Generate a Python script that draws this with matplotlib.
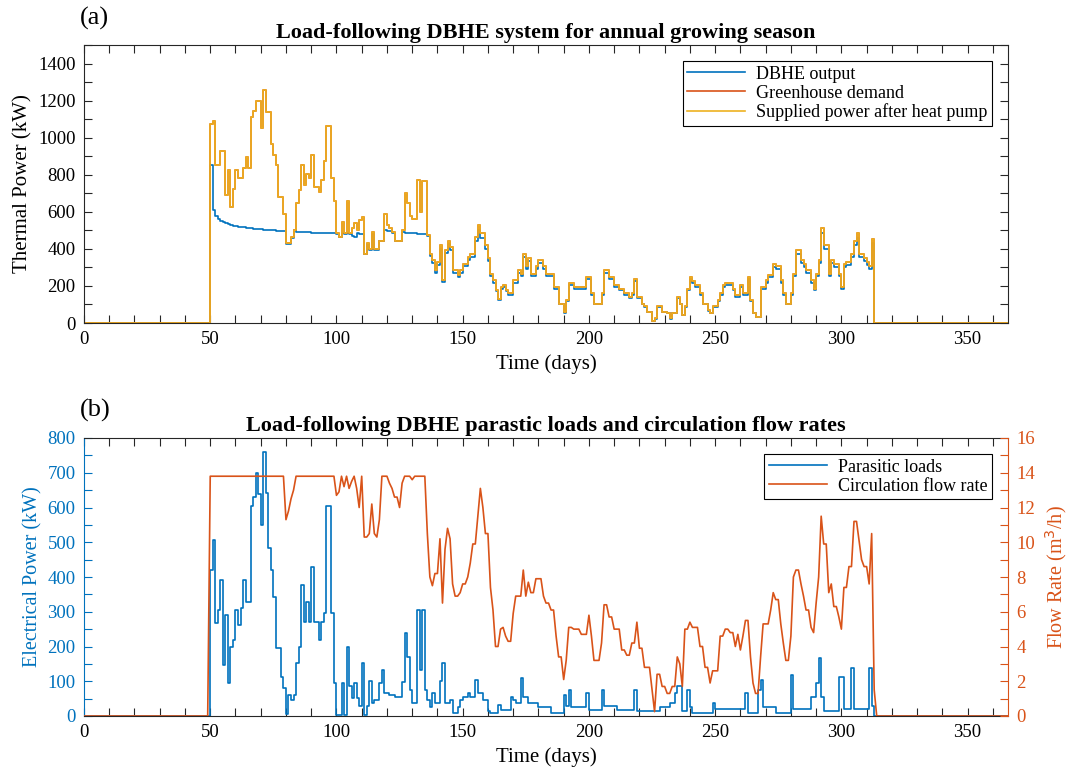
import numpy as np
import matplotlib
matplotlib.use("Agg")
import matplotlib.pyplot as plt

plt.rcParams['font.family'] = ['Liberation Serif', 'DejaVu Serif']

# daily values, growing season starts on day 50
start_day = 50

# supplied power after heat pump (= greenhouse demand), kW
supplied_kw = [
    1075, 1090, 850, 850, 930, 930, 690, 825, 625, 725,      # 50
    825, 785, 785, 835, 895, 835, 1110, 1145, 1200, 1200,    # 60
    1050, 1255, 1140, 1140, 965, 905, 850, 680, 680, 590,    # 70
    430, 430, 465, 500, 645, 715, 850, 745, 805, 785,        # 80
    905, 735, 735, 705, 770, 875, 1065, 1065, 785, 660,      # 90
    485, 465, 545, 485, 660, 485, 515, 540, 500, 555,        # 100
    570, 375, 430, 400, 490, 400, 400, 445, 445, 590,        # 110
    530, 515, 490, 445, 445, 445, 500, 700, 645, 580,        # 120
    560, 560, 770, 600, 765, 765, 475, 375, 340, 285,        # 130
    330, 420, 230, 395, 445, 410, 285, 285, 260, 285,        # 140
    320, 320, 355, 375, 375, 465, 530, 485, 485, 420,        # 150
    350, 265, 230, 180, 130, 195, 205, 180, 160, 160,        # 160
    230, 230, 285, 265, 375, 305, 350, 265, 265, 305,        # 170
    340, 340, 305, 265, 265, 265, 195, 195, 105, 105,        # 180
    60, 125, 215, 215, 195, 195, 195, 195, 195, 250,         # 190
    250, 160, 105, 105, 105, 160, 285, 285, 250, 250,        # 200
    205, 205, 185, 185, 160, 160, 140, 160, 240, 140,        # 210
    140, 105, 90, 60, 60, 10, 25, 90, 90, 60,                # 220
    60, 55, 25, 55, 55, 140, 105, 45, 90, 185,               # 230
    250, 225, 205, 205, 160, 105, 105, 70, 55, 90,           # 240
    90, 125, 160, 205, 215, 215, 215, 185, 150, 150,         # 250
    205, 160, 160, 250, 125, 55, 35, 35, 195, 195,           # 260
    230, 260, 260, 320, 305, 305, 230, 160, 105, 105,        # 270
    160, 265, 395, 395, 340, 320, 285, 285, 230, 185,        # 280
    265, 340, 510, 420, 420, 265, 340, 320, 320, 265,        # 290
    195, 320, 330, 330, 375, 445, 485, 375, 375, 350,        # 300
    330, 305, 455,                                           # 310
]
demand_kw = supplied_kw

# DBHE output, kW
dbhe_kw = [
    850, 610, 575, 560, 550, 543, 538, 533, 529, 526,
    523, 520, 518, 516, 514, 512, 510, 509, 507, 506,
    505, 504, 503, 502, 501, 500, 499, 498, 497, 496,
    425, 425, 460, 500, 492, 491, 490, 490, 489, 489,
    488, 488, 487, 487, 486, 486, 485, 485, 485, 484,
    480, 462, 484, 480, 483, 480, 470, 465, 483, 482,
    482, 372, 425, 395, 482, 395, 395, 440, 440, 500,
    499, 498, 485, 440, 440, 440, 490, 485, 485, 484,
    484, 483, 482, 482, 481, 480, 470, 360, 325, 272,
    315, 400, 220, 378, 425, 392, 272, 272, 248, 272,
    305, 305, 338, 357, 357, 442, 500, 460, 460, 400,
    332, 252, 218, 170, 122, 185, 195, 170, 152, 152,
    218, 218, 270, 252, 355, 290, 332, 252, 252, 290,
    322, 322, 290, 252, 252, 252, 185, 185, 100, 100,
    55, 118, 204, 204, 185, 185, 185, 185, 185, 237,
    237, 152, 100, 100, 100, 152, 270, 270, 237, 237,
    195, 195, 176, 176, 152, 152, 133, 152, 228, 133,
    133, 100, 85, 57, 57, 9, 24, 85, 85, 57,
    57, 52, 24, 52, 52, 133, 100, 43, 85, 176,
    237, 214, 195, 195, 152, 100, 100, 66, 52, 85,
    85, 118, 152, 195, 204, 204, 204, 176, 142, 142,
    195, 152, 152, 237, 118, 52, 33, 33, 185, 185,
    218, 247, 247, 304, 290, 290, 218, 152, 100, 100,
    152, 252, 375, 375, 323, 304, 270, 270, 218, 176,
    252, 323, 485, 399, 399, 252, 323, 304, 304, 252,
    185, 304, 314, 314, 356, 423, 461, 356, 356, 332,
    314, 290, 432,
]

# parasitic loads, kW
parasitic_kw = [
    420, 506, 267, 305, 391, 147, 291, 95, 199, 219,
    305, 262, 310, 390, 329, 329, 603, 631, 698, 640,
    550, 760, 641, 483, 420, 343, 195, 195, 113, 80,
    5, 60, 45, 60, 152, 199, 377, 271, 329, 270,
    430, 270, 270, 219, 270, 296, 603, 603, 296, 95,
    3, 3, 95, 3, 199, 86, 52, 95, 52, 30,
    152, 3, 29, 100, 37, 45, 45, 94, 133, 65,
    65, 60, 60, 56, 56, 56, 99, 238, 171, 75,
    37, 37, 305, 133, 305, 75, 46, 27, 65, 37,
    37, 100, 152, 37, 37, 46, 8, 8, 27, 46,
    56, 56, 65, 56, 56, 104, 65, 65, 46, 46,
    13, 8, 8, 8, 32, 17, 17, 17, 17, 56,
    46, 37, 37, 108, 56, 56, 37, 37, 37, 37,
    25, 25, 25, 25, 25, 8, 8, 8, 8, 8,
    60, 30, 75, 27, 27, 27, 27, 27, 27, 65,
    17, 17, 17, 17, 17, 75, 30, 30, 30, 30,
    30, 17, 17, 17, 17, 17, 17, 17, 75, 13,
    13, 13, 13, 13, 13, 13, 13, 13, 27, 27,
    27, 27, 37, 37, 65, 85, 85, 13, 13, 75,
    27, 8, 8, 8, 8, 8, 8, 8, 8, 37,
    20, 20, 20, 20, 20, 20, 20, 20, 20, 20,
    20, 20, 65, 8, 8, 8, 8, 75, 104, 27,
    27, 27, 27, 27, 8, 8, 8, 8, 8, 8,
    118, 20, 20, 20, 20, 20, 20, 20, 56, 56,
    94, 166, 56, 13, 13, 13, 13, 13, 13, 113,
    113, 20, 20, 20, 137, 20, 20, 20, 20, 20,
    20, 139, 30,
]

# circulation flow rate, m3/h
flow_m3h = [
    13.8, 13.8, 13.8, 13.8, 13.8, 13.8, 13.8, 13.8, 13.8, 13.8,
    13.8, 13.8, 13.8, 13.8, 13.8, 13.8, 13.8, 13.8, 13.8, 13.8,
    13.8, 13.8, 13.8, 13.8, 13.8, 13.8, 13.8, 13.8, 13.8, 13.8,
    11.3, 11.8, 12.5, 13.0, 13.8, 13.8, 13.8, 13.8, 13.8, 13.8,
    13.8, 13.8, 13.8, 13.8, 13.8, 13.8, 13.8, 13.8, 13.8, 13.8,
    12.7, 12.9, 13.8, 13.2, 13.8, 13.1, 13.5, 13.8, 13.1, 12.0,
    13.8, 10.3, 10.3, 10.5, 12.2, 10.5, 10.3, 11.3, 13.8, 13.8,
    13.8, 13.4, 13.1, 12.6, 12.6, 12.0, 13.4, 13.8, 13.8, 13.8,
    13.6, 13.8, 13.8, 13.8, 13.8, 13.8, 10.5, 8.0, 7.5, 8.2,
    8.2, 10.2, 6.5, 9.6, 10.8, 10.2, 7.6, 6.9, 6.9, 7.1,
    7.6, 7.6, 8.0, 8.8, 9.9, 9.9, 11.5, 13.1, 12.0, 10.5,
    10.5, 7.4, 6.1, 4.0, 4.0, 5.0, 5.1, 4.6, 4.3, 4.3,
    5.9, 6.9, 6.9, 6.9, 8.4, 6.9, 7.7, 7.1, 7.1, 7.9,
    7.9, 7.9, 6.9, 6.5, 6.5, 6.1, 6.1, 4.6, 3.4, 3.4,
    2.1, 3.2, 5.1, 5.1, 5.0, 5.0, 5.0, 4.7, 4.7, 4.7,
    5.8, 4.6, 3.2, 3.2, 3.2, 4.2, 6.4, 6.4, 5.7, 5.7,
    5.0, 5.0, 5.0, 3.8, 3.8, 3.5, 3.5, 4.2, 4.2, 5.4,
    3.9, 3.9, 2.8, 2.8, 2.8, 1.5, 0.25, 2.4, 2.4, 1.7,
    1.7, 1.3, 1.3, 1.7, 1.7, 3.4, 3.0, 1.7, 5.0, 5.0,
    5.4, 5.1, 5.1, 5.1, 4.0, 4.0, 2.8, 2.8, 1.9, 2.6,
    2.6, 2.6, 4.6, 4.6, 5.0, 5.0, 4.8, 4.8, 4.0, 4.7,
    3.8, 4.6, 5.5, 5.5, 3.4, 1.9, 1.3, 1.3, 3.4, 5.3,
    5.3, 5.3, 6.1, 7.1, 6.7, 6.7, 5.3, 4.2, 3.2, 3.2,
    4.6, 8.0, 8.4, 8.4, 7.6, 6.9, 6.1, 6.1, 5.1, 4.8,
    6.5, 8.0, 11.5, 9.9, 9.9, 7.1, 7.6, 6.3, 6.3, 5.7,
    5.0, 7.4, 7.4, 8.6, 8.6, 11.2, 11.2, 10.1, 9.0, 8.6,
    8.6, 7.6, 10.5, 1.5,
]

BLUE = '#0072BD'
ORANGE = '#D95319'
YELLOW = '#EDB120'
AXIS = '#262626'

days = np.arange(0, 367)


def full_year(values):
    # pad the season with zeros for the rest of the year
    out = np.zeros(len(days))
    out[start_day:start_day + len(values)] = values
    return out


fig = plt.figure(figsize=(10.69, 7.69), dpi=100)
ax1 = fig.add_axes([84 / 1069, 1 - 323 / 769, 924 / 1069, 278 / 769])
ax2 = fig.add_axes([84 / 1069, 1 - 716 / 769, 924 / 1069, 278 / 769])

# (a) thermal power
ax1.plot(days, full_year(dbhe_kw), color=BLUE, lw=1.2, drawstyle='steps-post', label='DBHE output')
ax1.plot(days, full_year(demand_kw), color=ORANGE, lw=1.2, drawstyle='steps-post', label='Greenhouse demand')
ax1.plot(days, full_year(supplied_kw), color=YELLOW, lw=1.2, drawstyle='steps-post',
         label='Supplied power after heat pump')
ax1.set_xlim(0, 366)
ax1.set_ylim(0, 1500)
ax1.set_xticks(np.arange(0, 351, 50))
ax1.set_xticks(np.arange(0, 366, 10), minor=True)
ax1.set_yticks(np.arange(0, 1401, 200))
ax1.set_yticks(np.arange(0, 1501, 100), minor=True)
ax1.tick_params(which='both', direction='in', top=True, right=True, length=6, width=0.8,
                labelsize=13.5, color=AXIS, pad=6)
ax1.set_xlabel('Time (days)', fontsize=15, labelpad=4)
ax1.set_ylabel('Thermal Power (kW)', fontsize=15, labelpad=4)
ax1.set_title('Load-following DBHE system for annual growing season', fontsize=16,
              fontweight='bold', pad=5)
for s in ax1.spines.values():
    s.set_color(AXIS)
    s.set_linewidth(0.8)
leg1 = ax1.legend(loc='upper right', fontsize=13, fancybox=False, edgecolor='black',
                  framealpha=1, handlelength=3.2, labelspacing=0.1, borderpad=0.25,
                  borderaxespad=0.9, handletextpad=0.6)
leg1.get_frame().set_linewidth(0.8)

# (b) parasitic loads and flow rate
ax3 = ax2.twinx()
ax2.plot(days, full_year(parasitic_kw), color=BLUE, lw=1.2, drawstyle='steps-post',
         label='Parasitic loads')
ax3.plot(days, full_year(flow_m3h), color=ORANGE, lw=1.2, label='Circulation flow rate')
ax2.set_xlim(0, 366)
ax2.set_ylim(0, 800)
ax3.set_ylim(0, 16)
ax2.set_xticks(np.arange(0, 351, 50))
ax2.set_xticks(np.arange(0, 366, 10), minor=True)
ax2.set_yticks(np.arange(0, 801, 100))
ax2.set_yticks(np.arange(0, 801, 50), minor=True)
ax3.set_yticks(np.arange(0, 17, 2))
ax3.set_yticks(np.arange(0, 17, 1), minor=True)
ax2.tick_params(axis='x', which='both', direction='in', top=True, length=6, width=0.8,
                labelsize=13.5, color=AXIS, pad=6)
ax2.tick_params(axis='y', which='both', direction='in', length=6, width=0.8,
                labelsize=13.5, color=BLUE, labelcolor=BLUE, pad=6)
ax3.tick_params(axis='y', which='both', direction='in', length=6, width=0.8,
                labelsize=13.5, color=ORANGE, labelcolor=ORANGE, pad=6)
ax2.set_xlabel('Time (days)', fontsize=15, labelpad=4)
ax2.set_ylabel('Electrical Power (kW)', fontsize=14.5, color=BLUE, labelpad=4)
ax3.set_ylabel('Flow Rate (m$^3$/h)', fontsize=14.5, color=ORANGE, labelpad=6)
ax2.set_title('Load-following DBHE parastic loads and circulation flow rates', fontsize=16,
              fontweight='bold', pad=5)
for s in ax2.spines.values():
    s.set_color(AXIS)
    s.set_linewidth(0.8)
ax2.spines['left'].set_color(BLUE)
ax2.spines['right'].set_visible(False)
ax3.spines['left'].set_visible(False)
ax3.spines['top'].set_visible(False)
ax3.spines['bottom'].set_visible(False)
ax3.spines['right'].set_color(ORANGE)
ax3.spines['right'].set_linewidth(0.8)

h1, l1 = ax2.get_legend_handles_labels()
h2, l2 = ax3.get_legend_handles_labels()
leg2 = ax3.legend(h1 + h2, l1 + l2, loc='upper right', fontsize=13, fancybox=False,
                  edgecolor='black', framealpha=1, handlelength=3.2, labelspacing=0.1,
                  borderpad=0.25, borderaxespad=0.9, handletextpad=0.6)
leg2.get_frame().set_linewidth(0.8)

fig.text(80 / 1069, 1 - 18 / 769, '(a)', fontsize=19, va='center')
fig.text(80 / 1069, 1 - 410 / 769, '(b)', fontsize=19, va='center')

fig.savefig('out.png', dpi=100)
